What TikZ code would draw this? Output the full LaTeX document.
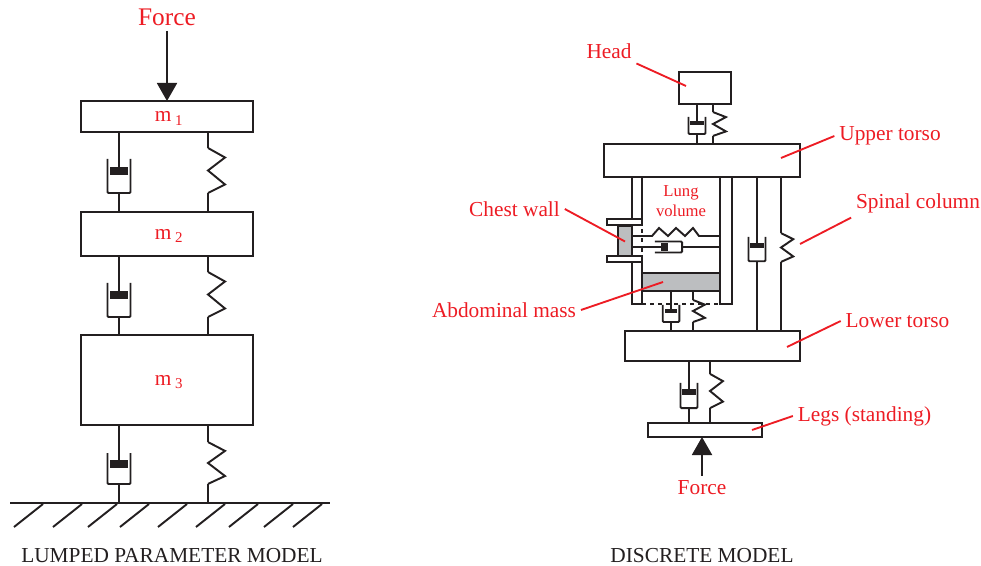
\documentclass[tikz,border=0pt]{standalone}
\usepackage{fontspec}
\usepackage{xcolor}
\setmainfont{Liberation Serif}
\definecolor{inkblack}{RGB}{35, 31, 32}
\definecolor{labelred}{RGB}{237, 28, 36}
\definecolor{massgray}{RGB}{188, 190, 192}
\usetikzlibrary{arrows.meta, positioning}

\tikzset{
    pics/damper/.style={code={
        \draw[rounded corners=0.8pt] (-11.5,-17) -- (-11.5,17) -- (11.5,17) -- (11.5,-17);
        \fill[inkblack] (-9,-9) rectangle (9,-1);
        \draw (0,-17) -- (0,-5);
        \coordinate (-top) at (0,-17);
        \coordinate (-bot) at (0,17);
    }},
    pics/coil/.style={code={
        \draw (0,-22.5) -- (17,-13) -- (0,0) -- (17,14) -- (0,22.5);
        \coordinate (-top) at (0,-22.5);
        \coordinate (-bot) at (0,22.5);
    }}
}

\begin{document}
\begin{tikzpicture}[
    x=0.75pt, y=-0.75pt,
    line width=1.45pt, draw=inkblack,
    node distance=60pt,
    box/.style 2 args={rectangle, draw=inkblack, inner sep=0pt, outer sep=0pt,
                  minimum width=#1*0.75pt, minimum height=#2*0.75pt},
    masslabel/.style={text=labelred, font=\fontsize{16}{18}\selectfont,
                  text height=8pt, text depth=0pt},
    partlabel/.style={text=labelred, font=\fontsize{16}{18}\selectfont, inner sep=3pt},
    caption/.style={text=inkblack, font=\fontsize{16}{18}\selectfont, inner sep=0pt},
    leader/.style={labelred, line width=1.4pt},
    forcearrow/.style={-{Triangle[width=15pt, length=13.5pt]}, inkblack}
]
    \useasboundingbox (0,0) rectangle (981,566);

    % Lumped parameter model
    \node[box={172}{31}, masslabel] (m1) at (167,116.5) {\hspace*{3pt}m\,\textsubscript{1}};
    \node[box={172}{44}, masslabel, below=60pt of m1] (m2) {\hspace*{3pt}m\,\textsubscript{2}};
    \node[box={172}{90}, masslabel, below=59pt of m2] (m3) {\hspace*{3pt}m\,\textsubscript{3}};
    \coordinate (ground) at (10,503);
    \draw (ground) -- (330,503);
    \foreach \hx in {43,82,117,149,187,225,258,293,322}
        \draw (\hx,504) -- ++(-29,23);

    \node[text=labelred, font=\fontsize{19}{21}\selectfont] (forcetop) at (167,17) {Force};
    \draw[forcearrow] (forcetop.south) -- (m1.north);

    \pic (d1) at (119,176) {damper};
    \pic (k1) at (208,170.5) {coil};
    \pic (d2) at (119,300) {damper};
    \pic (k2) at (208,294.5) {coil};
    \pic[yscale=0.91] (d3) at (119,468.5) {damper};
    \pic[yscale=0.93] (k3) at (208,463) {coil};

    \draw (m1.south -| d1-top) -- (d1-top);
    \draw (d1-bot) -- (m2.north -| d1-bot);
    \draw (m1.south -| k1-top) -- (k1-top);
    \draw (k1-bot) -- (m2.north -| k1-bot);
    \draw (m2.south -| d2-top) -- (d2-top);
    \draw (d2-bot) -- (m3.north -| d2-bot);
    \draw (m2.south -| k2-top) -- (k2-top);
    \draw (k2-bot) -- (m3.north -| k2-bot);
    \draw (m3.south -| d3-top) -- (d3-top);
    \draw (d3-bot) -- (ground -| d3-bot);
    \draw (m3.south -| k3-top) -- (k3-top);
    \draw (k3-bot) -- (ground -| k3-bot);

    \node[caption] (lumpedcap) at (172,556) {LUMPED PARAMETER MODEL};

    % Discrete model, body blocks
    \node[box={52}{32}] (head) at (705,88) {};
    \node[box={196}{33}] (upper) at (702,160.5) {};
    \node[box={175}{30}] (lower) at (712.5,346) {};
    \node[box={114}{14}] (legs) at (705,430) {};

    % Thorax walls
    \node[box={10}{127}] (lcol) at (637,240.5) {};
    \node[box={12}{127}] (rcol) at (726,240.5) {};
    \draw[white, line width=1.8pt] (642,226) -- (642,258);
    \draw[dash pattern=on 3pt off 4pt] (642,229) -- (642,258);
    \draw[dashed] (lcol.south east) -- (rcol.south west);
    \node[box={78}{18}, fill=massgray] (abdomen) at (681,282) {};
    \node[box={14}{31}, fill=massgray] (chest) at (625,241.5) {};
    \node[box={35}{6}, fill=white] (flangetop) at (624.5,222) {};
    \node[box={35}{6}, fill=white] (flangebot) at (624.5,259) {};

    % Lung spring and damper
    \coordinate (lungk) at (652,236);
    \draw (chest.east |- lungk) -- (lungk) -- ++(7,-8) -- ++(9,8) -- ++(8,-8)
        -- ++(9,8) -- ++(8,-8) -- ++(6,8) -- (lungk -| rcol.west);
    \pic[rotate=90, xscale=0.48, yscale=0.8] (d5) at (668.5,247) {damper};
    \draw (chest.east |- d5-top) -- (d5-top);
    \draw (d5-bot) -- (rcol.west |- d5-bot);

    % Springs and dampers
    \pic[xscale=0.74, yscale=0.5] (d4) at (697,125.5) {damper};
    \pic[xscale=0.76, yscale=0.53] (k4) at (713,124) {coil};
    \pic[xscale=0.72, yscale=0.5] (d6) at (671,313.5) {damper};
    \pic[xscale=0.7, yscale=0.49] (k6) at (693,311) {coil};
    \pic[xscale=0.74, yscale=0.72] (d7) at (757,249) {damper};
    \pic[xscale=0.72, yscale=0.64] (k7) at (781,247.5) {coil};
    \pic[xscale=0.74, yscale=0.74] (d8) at (689,395.5) {damper};
    \pic[xscale=0.76, yscale=0.76] (k8) at (710,391) {coil};

    \draw (head.south -| d4-top) -- (d4-top);
    \draw (d4-bot) -- (upper.north -| d4-bot);
    \draw (head.south -| k4-top) -- (k4-top);
    \draw (k4-bot) -- (upper.north -| k4-bot);
    \draw (abdomen.south -| d6-top) -- (d6-top);
    \draw (d6-bot) -- (lower.north -| d6-bot);
    \draw (abdomen.south -| k6-top) -- (k6-top);
    \draw (k6-bot) -- (lower.north -| k6-bot);
    \draw (upper.south -| d7-top) -- (d7-top);
    \draw (d7-bot) -- (lower.north -| d7-bot);
    \draw (upper.south -| k7-top) -- (k7-top);
    \draw (k7-bot) -- (lower.north -| k7-bot);
    \draw (lower.south -| d8-top) -- (d8-top);
    \draw (d8-bot) -- (legs.north -| d8-bot);
    \draw (lower.south -| k8-top) -- (k8-top);
    \draw (k8-bot) -- (legs.north -| k8-bot);

    % Labels
    \node[partlabel] (headlbl) at (609,51) {Head};
    \node[partlabel] (upperlbl) at (890,136) {Upper torso};
    \node[partlabel] (spinelbl) at (918,203) {Spinal column};
    \node[partlabel] (chestlbl) at (514.5,209) {Chest wall};
    \node[partlabel] (abdolbl) at (504,310) {Abdominal mass};
    \node[partlabel] (lowerlbl) at (897.5,321) {Lower torso};
    \node[partlabel] (legslbl) at (864.5,416) {Legs (standing)};
    \node[partlabel] (forcelbl) at (702,488) {Force};
    \node[text=labelred, align=center, font=\fontsize{12.5}{15}\selectfont] (lunglbl) at (681,201) {Lung\\volume};
    \node[caption] (discretecap) at (702,556) {DISCRETE MODEL};

    % Leader lines
    \coordinate (headpt) at (686,86);
    \draw[leader] (headlbl) -- (headpt);
    \draw[leader] (upperlbl.west) -- (781,158);
    \draw[leader] (spinelbl.south west) -- (800,244);
    \draw[leader] (chestlbl.east) -- (chest.center);
    \draw[leader] (abdolbl.east) -- (663,282);
    \draw[leader] (lowerlbl.west) -- (787,347);
    \draw[leader] (legslbl.west) -- (752,430);

    \draw[forcearrow] (forcelbl.north) -- (forcelbl.north |- legs.south);
\end{tikzpicture}
\end{document}
